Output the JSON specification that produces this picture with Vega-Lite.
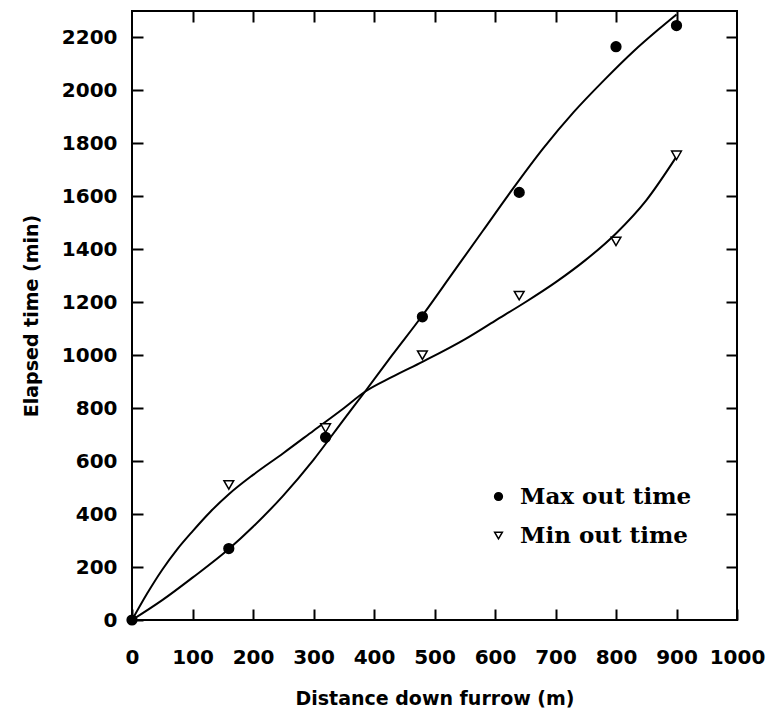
{
  "$schema": "https://vega.github.io/schema/vega-lite/v6.json",
  "autosize": "none",
  "width": 605,
  "height": 609,
  "padding": {"left": 132, "top": 11, "right": 34, "bottom": 89},
  "background": "white",
  "config": {
    "view": {"stroke": "black", "strokeWidth": 2},
    "axis": {
      "domain": false,
      "grid": false,
      "zindex": 1,
      "ticks": true,
      "tickColor": "black",
      "tickWidth": 2,
      "tickSize": 11,
      "offset": -11,
      "labelColor": "black",
      "labelFont": "DejaVu Sans",
      "labelFontWeight": "bold",
      "labelFontSize": 20,
      "titleColor": "black",
      "titleFont": "DejaVu Sans",
      "titleFontWeight": "bold",
      "titleFontSize": 19
    },
    "legend": {
      "labelFont": "DejaVu Serif",
      "labelFontWeight": "bold",
      "labelFontSize": 23,
      "labelColor": "black",
      "labelLimit": 0
    }
  },
  "datasets": {
    "curves": [
      {"x": 0, "y": 0, "series": "Max out time"},
      {"x": 50, "y": 75, "series": "Max out time"},
      {"x": 100, "y": 160, "series": "Max out time"},
      {"x": 160, "y": 268, "series": "Max out time"},
      {"x": 200, "y": 352, "series": "Max out time"},
      {"x": 250, "y": 470, "series": "Max out time"},
      {"x": 300, "y": 605, "series": "Max out time"},
      {"x": 350, "y": 757, "series": "Max out time"},
      {"x": 385, "y": 862, "series": "Max out time"},
      {"x": 430, "y": 1000, "series": "Max out time"},
      {"x": 480, "y": 1150, "series": "Max out time"},
      {"x": 530, "y": 1310, "series": "Max out time"},
      {"x": 580, "y": 1470, "series": "Max out time"},
      {"x": 630, "y": 1630, "series": "Max out time"},
      {"x": 680, "y": 1782, "series": "Max out time"},
      {"x": 730, "y": 1918, "series": "Max out time"},
      {"x": 780, "y": 2038, "series": "Max out time"},
      {"x": 830, "y": 2150, "series": "Max out time"},
      {"x": 870, "y": 2230, "series": "Max out time"},
      {"x": 900, "y": 2287, "series": "Max out time"},
      {"x": 0, "y": 0, "series": "Min out time"},
      {"x": 25, "y": 100, "series": "Min out time"},
      {"x": 50, "y": 190, "series": "Min out time"},
      {"x": 75, "y": 268, "series": "Min out time"},
      {"x": 100, "y": 335, "series": "Min out time"},
      {"x": 130, "y": 410, "series": "Min out time"},
      {"x": 160, "y": 475, "series": "Min out time"},
      {"x": 200, "y": 548, "series": "Min out time"},
      {"x": 250, "y": 630, "series": "Min out time"},
      {"x": 300, "y": 715, "series": "Min out time"},
      {"x": 350, "y": 800, "series": "Min out time"},
      {"x": 385, "y": 862, "series": "Min out time"},
      {"x": 430, "y": 918, "series": "Min out time"},
      {"x": 480, "y": 975, "series": "Min out time"},
      {"x": 550, "y": 1060, "series": "Min out time"},
      {"x": 600, "y": 1130, "series": "Min out time"},
      {"x": 650, "y": 1200, "series": "Min out time"},
      {"x": 700, "y": 1275, "series": "Min out time"},
      {"x": 750, "y": 1360, "series": "Min out time"},
      {"x": 800, "y": 1460, "series": "Min out time"},
      {"x": 850, "y": 1585, "series": "Min out time"},
      {"x": 900, "y": 1750, "series": "Min out time"}
    ],
    "points": [
      {"x": 0, "y": 0, "series": "Max out time"},
      {"x": 160, "y": 270, "series": "Max out time"},
      {"x": 320, "y": 690, "series": "Max out time"},
      {"x": 480, "y": 1145, "series": "Max out time"},
      {"x": 640, "y": 1615, "series": "Max out time"},
      {"x": 800, "y": 2165, "series": "Max out time"},
      {"x": 900, "y": 2245, "series": "Max out time"},
      {"x": 160, "y": 510, "series": "Min out time"},
      {"x": 320, "y": 725, "series": "Min out time"},
      {"x": 480, "y": 1000, "series": "Min out time"},
      {"x": 640, "y": 1225, "series": "Min out time"},
      {"x": 800, "y": 1430, "series": "Min out time"},
      {"x": 900, "y": 1755, "series": "Min out time"}
    ]
  },
  "layer": [
    {
      "data": {"name": "curves"},
      "mark": {"type": "line", "color": "black", "strokeWidth": 2, "interpolate": "monotone"},
      "encoding": {
        "x": {"field": "x", "type": "quantitative",
              "scale": {"domain": [0, 1000], "nice": false},
              "axis": {"orient": "bottom", "values": [0,100,200,300,400,500,600,700,800,900,1000], "format": "d",
                       "labelPadding": 27, "title": "Distance down furrow (m)", "titlePadding": 22,
                       "labelFlush": false, "labelOverlap": false}},
        "y": {"field": "y", "type": "quantitative",
              "scale": {"domain": [0, 2300], "nice": false},
              "axis": {"orient": "left", "values": [0,200,400,600,800,1000,1200,1400,1600,1800,2000,2200], "format": "d",
                       "labelPadding": 15, "title": "Elapsed time (min)", "titlePadding": 20,
                       "labelFlush": false, "labelOverlap": false}},
        "detail": {"field": "series"}
      }
    },
    {
      "data": {"name": "points"},
      "mark": {"type": "point", "stroke": "black", "strokeWidth": 1.5, "opacity": 1, "size": 95},
      "encoding": {
        "x": {"field": "x", "type": "quantitative",
              "axis": {"orient": "top", "values": [100,200,300,400,500,600,700,800,900], "labels": false, "title": null}},
        "y": {"field": "y", "type": "quantitative",
              "axis": {"orient": "right", "values": [200,400,600,800,1000,1200,1400,1600,1800,2000,2200], "labels": false, "title": null}},
        "shape": {"field": "series", "type": "nominal",
                  "scale": {"domain": ["Max out time", "Min out time"], "range": ["circle", "triangle-down"]},
                  "legend": {"title": null, "orient": "none", "legendX": 355, "legendY": 474,
                             "symbolSize": 60, "symbolStrokeWidth": 1.5, "labelOffset": 10, "rowPadding": 15}},
        "fill": {"field": "series", "type": "nominal",
                 "scale": {"domain": ["Max out time", "Min out time"], "range": ["black", "white"]},
                 "legend": {"title": null, "orient": "none", "legendX": 355, "legendY": 474,
                            "symbolSize": 60, "symbolStrokeWidth": 1.5, "labelOffset": 10, "rowPadding": 15}}
      }
    }
  ],
  "resolve": {"axis": {"x": "independent", "y": "independent"}}
}
